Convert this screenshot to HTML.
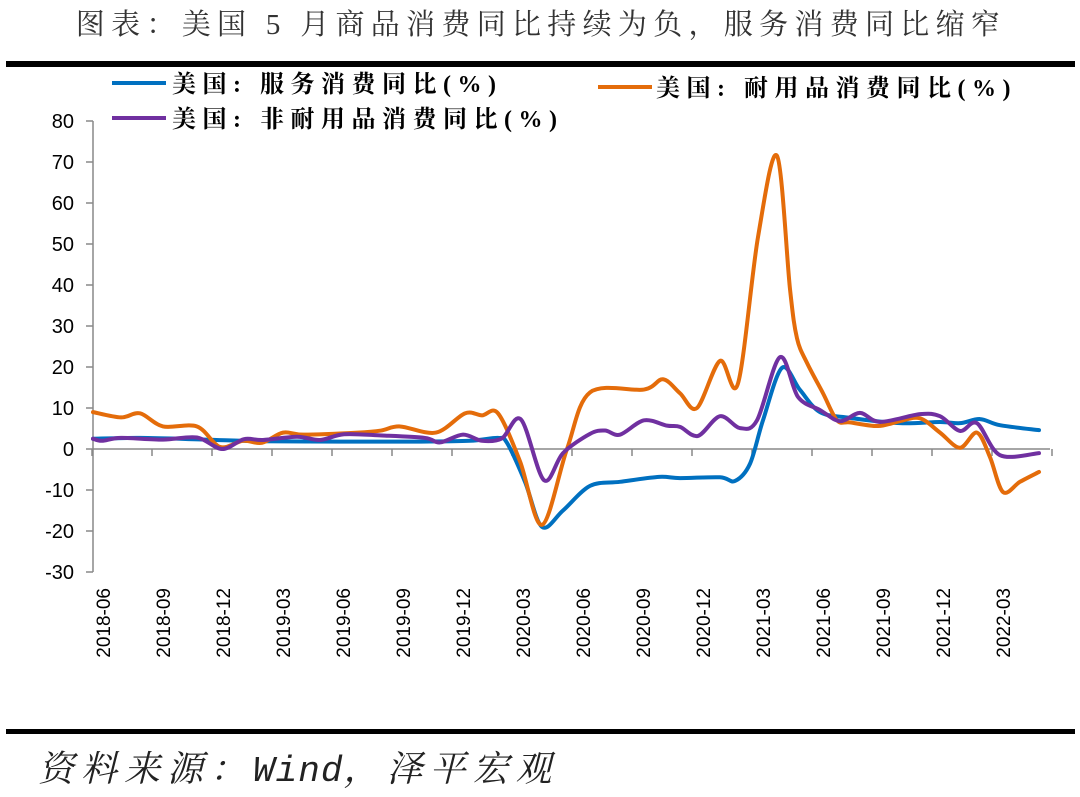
<!DOCTYPE html>
<html><head><meta charset="utf-8"><style>
body{margin:0;background:#fff;width:1080px;height:792px;overflow:hidden}
</style></head><body>
<svg id="s" width="1080" height="792" xmlns="http://www.w3.org/2000/svg">
<text x="541" y="34" text-anchor="middle" font-family="'Liberation Serif','Noto Serif CJK SC',serif" font-size="29" fill="#333" letter-spacing="6.3">图表：美国 5 月商品消费同比持续为负，服务消费同比缩窄</text>
<rect x="6" y="61" width="1069" height="6" fill="#000"/>
<rect x="6" y="729" width="1069" height="5" fill="#000"/>
<text x="38" y="781" font-family="'Liberation Serif','Noto Serif CJK SC',serif" font-style="italic" font-size="36" fill="#222" letter-spacing="7">资料来源：<tspan font-family="'Liberation Mono',monospace" letter-spacing="1">Wind</tspan>，泽平宏观</text>
<g font-family="'Liberation Serif','Noto Serif CJK SC',serif" font-weight="bold" font-size="24" fill="#000" letter-spacing="6.5">
<line x1="112" y1="83" x2="166" y2="83" stroke="#0070C0" stroke-width="4"/>
<text x="172" y="92">美国: 服务消费同比(%)</text>
<line x1="598" y1="87" x2="652" y2="87" stroke="#E46C0A" stroke-width="4"/>
<text x="656" y="96">美国: 耐用品消费同比(%)</text>
<line x1="112" y1="118" x2="166" y2="118" stroke="#7030A0" stroke-width="4"/>
<text x="172" y="127">美国: 非耐用品消费同比(%)</text>
</g>
<g id="ax" stroke="#888" stroke-width="1.5" fill="none"></g>
<g id="lab" font-family="'Liberation Sans',sans-serif" font-size="20" fill="#000" text-anchor="end"></g>
<g id="ser" fill="none" stroke-width="4" stroke-linejoin="round" stroke-linecap="round"></g>
</svg>
<script>
const NS="http://www.w3.org/2000/svg";
function el(p,t,a,txt){const e=document.createElementNS(NS,t);for(const k in a)e.setAttribute(k,a[k]);if(txt!==undefined)e.textContent=txt;document.getElementById(p).appendChild(e);return e;}
const Y=v=>449-v*4.1;
el('ax','line',{x1:93,y1:121,x2:93,y2:572});
for(let v=-30;v<=80;v+=10){el('ax','line',{x1:86,y1:Y(v),x2:93,y2:Y(v)});el('lab','text',{x:74,y:Y(v)+7},v);}
el('ax','line',{x1:93,y1:449,x2:1050,y2:449});
for(let k=0;k<=16;k++){const x=92+60*k;el('ax','line',{x1:x,y1:449,x2:x,y2:456});}
const labs=["2018-06","2018-09","2018-12","2019-03","2019-06","2019-09","2019-12","2020-03","2020-06","2020-09","2020-12","2021-03","2021-06","2021-09","2021-12","2022-03"];
labs.forEach((l,i)=>{const x=103+60*i+7;el('lab','text',{x:0,y:0,'font-size':19,transform:`translate(${x},588) rotate(-90)`},l);});
function path(pts){const P=pts.map(p=>[p[0],Y(p[1])]);let d=`M${P[0][0]},${P[0][1]}`;
for(let i=0;i<P.length-1;i++){const p0=P[Math.max(0,i-1)],p1=P[i],p2=P[i+1],p3=P[Math.min(P.length-1,i+2)];const t=0.16;
d+=` C${p1[0]+(p2[0]-p0[0])*t},${p1[1]+(p2[1]-p0[1])*t} ${p2[0]-(p3[0]-p1[0])*t},${p2[1]-(p3[1]-p1[1])*t} ${p2[0]},${p2[1]}`;}return d;}
const blue=[[93,2.5],[140,2.7],[205,2.3],[260,1.9],[340,1.8],[420,1.8],[470,2],[498,2.7],[507,1.5],[525,-8],[542,-19],[563,-15],[590,-9],[620,-8],[659,-6.8],[680,-7.1],[720,-6.9],[735,-7.8],[750,-3.6],[763,7],[782,19.8],[800,14.4],[820,9],[850,7.6],[900,6.3],[940,6.6],[960,6.3],[980,7.3],[1000,5.8],[1039,4.6]];
const orange=[[93,9],[121,7.7],[140,8.7],[163,5.5],[197,5.5],[220,0.5],[243,2],[262,1.5],[283,4],[304,3.5],[358,4],[381,4.5],[400,5.5],[436,4],[465,8.7],[482,8.2],[498,8.7],[520,-3],[542,-18.5],[567,0],[590,13.8],[644,14.5],[663,17],[680,13.6],[697,10],[720,21.5],[738,16],[758,51.7],[777,71.5],[790,39],[797,27],[807,21],[823,13.6],[837,7],[850,6.5],[878,5.6],[900,6.8],[920,7.5],[940,4],[960,0.3],[977,4],[990,-2],[1003,-10.5],[1020,-8],[1039,-5.6]];
const purple=[[93,2.5],[102,2],[121,2.7],[163,2.3],[197,2.8],[222,0],[244,2.4],[263,2.2],[297,3],[320,2.2],[344,3.6],[382,3.3],[425,2.7],[440,1.6],[463,3.5],[482,2],[502,2.6],[521,7.2],[544,-7.6],[563,-1],[590,3.7],[605,4.5],[620,3.5],[644,7],[667,5.7],[680,5.4],[698,3.2],[720,8],[740,5.1],[757,7],[780,22.4],[798,12.7],[820,9.5],[840,6.8],[860,8.8],[880,6.6],[920,8.5],[940,8],[960,4.4],[977,6.3],[1000,-1.5],[1039,-1]];
el('ser','path',{d:path(blue),stroke:'#0070C0'});
el('ser','path',{d:path(orange),stroke:'#E46C0A'});
el('ser','path',{d:path(purple),stroke:'#7030A0'});
</script>
</body></html>
